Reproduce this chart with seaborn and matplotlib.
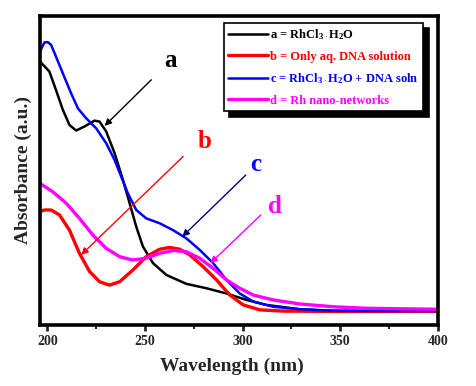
import matplotlib
matplotlib.use('Agg')
import matplotlib.pyplot as plt
import seaborn as sns
import pandas as pd
from matplotlib.ticker import MultipleLocator

sns.set_style('white')
plt.rcParams['font.family'] = ['Liberation Serif', 'DejaVu Serif']
plt.rcParams['font.weight'] = 'bold'
plt.rcParams['mathtext.fontset'] = 'custom'
plt.rcParams['mathtext.rm'] = 'Liberation Serif:bold'
plt.rcParams['mathtext.bf'] = 'Liberation Serif:bold'
plt.rcParams['mathtext.it'] = 'Liberation Serif:bold'

# curve a : RhCl3.H2O
wl_a = [196.2, 201.0, 204.4, 207.9, 211.3, 214.7, 219.0, 224.1, 226.7, 230.1, 234.4,
        238.7, 242.1, 245.5, 248.9, 254.1, 260.9, 271.2, 281.4, 291.7, 302.0, 312.2,
        329.3, 346.5, 400.0]
abs_a = [0.852, 0.820, 0.760, 0.696, 0.647, 0.629, 0.642, 0.661, 0.658, 0.626, 0.556,
         0.469, 0.394, 0.318, 0.254, 0.200, 0.162, 0.133, 0.119, 0.102, 0.081, 0.065,
         0.051, 0.046, 0.043]

# curve b : only aq. DNA
wl_b = [196.2, 198.5, 201.9, 206.2, 211.3, 216.4, 221.6, 226.7, 231.8, 237.0, 243.8,
        250.6, 257.5, 262.6, 267.8, 272.9, 279.7, 286.6, 293.4, 300.3, 308.8, 320.8,
        346.5, 400.0]
abs_b = [0.367, 0.372, 0.372, 0.356, 0.307, 0.232, 0.173, 0.140, 0.129, 0.140, 0.178,
         0.221, 0.245, 0.251, 0.245, 0.227, 0.189, 0.146, 0.097, 0.065, 0.049, 0.045,
         0.044, 0.044]

# curve c : RhCl3.H2O + DNA
wl_c = [196.2, 198.5, 200.2, 201.9, 204.4, 207.9, 212.1, 215.6, 219.8, 225.0, 230.1,
        234.4, 237.8, 241.2, 245.5, 250.6, 257.5, 264.3, 271.2, 278.0, 284.9, 291.7,
        298.5, 305.4, 315.7, 329.3, 346.5, 400.0]
abs_c = [0.885, 0.914, 0.915, 0.906, 0.868, 0.814, 0.750, 0.701, 0.669, 0.636, 0.588,
         0.534, 0.480, 0.426, 0.372, 0.345, 0.329, 0.307, 0.280, 0.243, 0.200, 0.146,
         0.102, 0.076, 0.059, 0.051, 0.046, 0.045]

# curve d : Rh nano-networks
wl_d = [196.2, 202.7, 209.6, 216.4, 223.3, 230.1, 237.0, 243.8, 250.6, 257.5, 264.3,
        271.2, 278.0, 284.9, 291.7, 298.5, 305.4, 315.7, 329.3, 346.5, 363.6, 400.0]
abs_d = [0.458, 0.431, 0.394, 0.345, 0.291, 0.248, 0.221, 0.210, 0.216, 0.232, 0.241,
         0.237, 0.216, 0.183, 0.146, 0.119, 0.097, 0.081, 0.068, 0.059, 0.054, 0.051]

labels = ['a = RhCl$_{3\\cdot}$H$_2$O', 'b = Only aq. DNA solution',
          'c = RhCl$_{3\\cdot}$H$_2$O + DNA soln', 'd = Rh nano-networks']
colors = ['black', '#ff0000', '#0000ff', '#ff00ff']
widths = [1.8, 2.4, 1.8, 2.4]

fig = plt.figure(figsize=(4.76, 3.86), dpi=100)
ax = fig.add_axes([0.084, 0.158, 0.836, 0.801])

series = [(wl_a, abs_a), (wl_b, abs_b), (wl_c, abs_c), (wl_d, abs_d)]
for (wl, ab), lab, col, lw in zip(series, labels, colors, widths):
    df = pd.DataFrame({'wl': wl, 'abs': ab})
    sns.lineplot(data=df, x='wl', y='abs', color=col, lw=lw, label=lab, ax=ax,
                 sort=False, estimator=None)

ax.set_xlim(196.2, 400)
ax.set_ylim(0, 1)
ax.set_yticks([])
ax.xaxis.set_major_locator(MultipleLocator(50))
ax.xaxis.set_minor_locator(MultipleLocator(25))
ax.tick_params(axis='x', which='major', direction='out', length=4, width=2,
               labelsize=10, pad=3, bottom=True)
ax.tick_params(axis='x', which='minor', direction='out', length=3, width=1.5, bottom=True)
for lbl in ax.get_xticklabels():
    lbl.set_fontweight('bold')
for sp in ax.spines.values():
    sp.set_linewidth(2.6)
    sp.set_color('black')

ax.set_xlabel('Wavelength (nm)', fontsize=14, fontweight='bold', labelpad=8)
ax.xaxis.set_label_coords(0.483, -0.105)
ax.set_ylabel('Absorbance (a.u.)', fontsize=14, fontweight='bold', labelpad=6)

# annotations: label text, label pos, arrow tail, arrow head, colour
notes = [('a', (263.0, 0.854), (253.2, 0.793), (229.3, 0.644), 'black', 'black'),
         ('b', (280.6, 0.593), (269.5, 0.545), (217.3, 0.227), '#ff0000', '#ff0000'),
         ('c', (306.8, 0.518), (301.6, 0.485), (269.1, 0.286), '#0000ff', '#000080'),
         ('d', (316.5, 0.383), (309.3, 0.356), (283.5, 0.200), '#ff00ff', '#ff00ff')]
for txt, tpos, tail, head, tcol, acol in notes:
    ax.text(tpos[0], tpos[1], txt, color=tcol, fontsize=18, fontweight='bold',
            ha='center', va='center')
    ax.annotate('', xy=head, xytext=tail,
                arrowprops=dict(arrowstyle='-|>', color=acol, lw=1.0,
                                mutation_scale=10, shrinkA=0, shrinkB=0))

leg = ax.legend(loc='upper right', bbox_to_anchor=(0.963, 0.978), frameon=True,
                fancybox=False, edgecolor='black', framealpha=1, borderpad=0.35,
                borderaxespad=0, handlelength=3.2, handletextpad=0.15,
                labelspacing=0.7,
                prop={'family': 'Liberation Serif', 'weight': 'bold', 'size': 9},
                shadow={'facecolor': 'black', 'edgecolor': 'black', 'alpha': 1,
                        'ox': 4, 'oy': -4})
leg.get_frame().set_linewidth(1.2)
for t, col in zip(leg.get_texts(), colors):
    t.set_color(col)

fig.savefig('out.png', dpi=100)
